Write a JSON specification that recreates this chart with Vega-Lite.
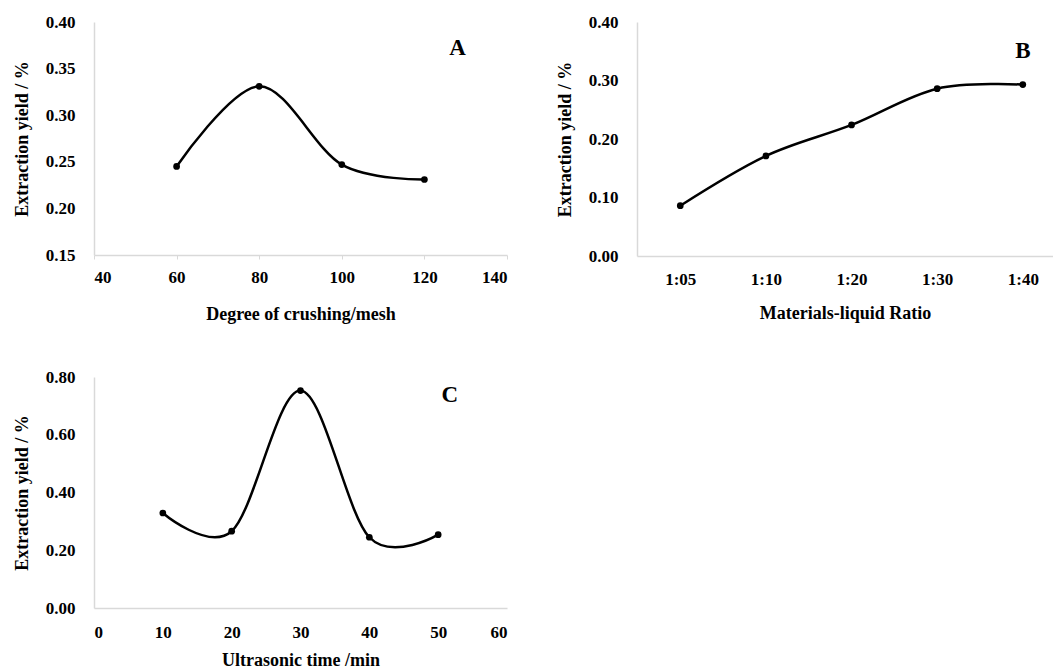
{
  "$schema": "https://vega.github.io/schema/vega-lite/v6.json",
  "padding": {"left": 13, "top": 13, "right": 0, "bottom": 0},
  "background": "white",
  "datasets": {
    "A": [
      {"mesh": 60, "yield": 0.245},
      {"mesh": 80, "yield": 0.331},
      {"mesh": 100, "yield": 0.247},
      {"mesh": 120, "yield": 0.231}
    ],
    "B": [
      {"ratio": "1:05", "yield": 0.086},
      {"ratio": "1:10", "yield": 0.171},
      {"ratio": "1:20", "yield": 0.224},
      {"ratio": "1:30", "yield": 0.286},
      {"ratio": "1:40", "yield": 0.293}
    ],
    "C": [
      {"time": 10, "yield": 0.329},
      {"time": 20, "yield": 0.266},
      {"time": 30, "yield": 0.753},
      {"time": 40, "yield": 0.245},
      {"time": 50, "yield": 0.254}
    ]
  },
  "spacing": {"column": 48, "row": 45},
  "columns": 2,
  "concat": [
    {
      "width": 413,
      "height": 233,
      "layer": [
        {
          "data": {"name": "A"},
          "mark": {"type": "line", "interpolate": "cardinal", "color": "black", "strokeWidth": 2.5},
          "encoding": {
            "x": {"field": "mesh", "type": "quantitative", "scale": {"domain": [40, 140], "nice": false, "zero": false},
                  "axis": {"values": [40, 60, 80, 100, 120, 140], "format": "d", "title": "Degree of crushing/mesh", "ticks": true, "tickSize": 4, "tickColor": "#d9d9d9", "labelPadding": 10, "titlePadding": 20}},
            "y": {"field": "yield", "type": "quantitative", "scale": {"domain": [0.15, 0.40], "nice": false, "zero": false},
                  "axis": {"values": [0.15, 0.20, 0.25, 0.30, 0.35, 0.40], "format": ".2f", "title": "Extraction yield / %"}}
          }
        },
        {
          "data": {"name": "A"},
          "mark": {"type": "point", "filled": true, "color": "black", "size": 45, "opacity": 1},
          "encoding": {
            "x": {"field": "mesh", "type": "quantitative"},
            "y": {"field": "yield", "type": "quantitative"}
          }
        },
        {
          "data": {"values": [{"label": "A", "mesh": 128, "yield": 0.372}]},
          "mark": {"type": "text", "font": "Liberation Serif", "fontWeight": "bold", "fontSize": 23, "align": "center", "baseline": "middle", "color": "black"},
          "encoding": {
            "x": {"field": "mesh", "type": "quantitative"},
            "y": {"field": "yield", "type": "quantitative"},
            "text": {"field": "label"}
          }
        }
      ]
    },
    {
      "width": 416,
      "height": 234,
      "layer": [
        {
          "data": {"name": "B"},
          "mark": {"type": "line", "interpolate": "cardinal", "color": "black", "strokeWidth": 2.5},
          "encoding": {
            "x": {"field": "ratio", "type": "ordinal", "sort": null, "scale": {"type": "point", "padding": 0.429, "align": 0.589},
                  "axis": {"labelAngle": 0, "title": "Materials-liquid Ratio", "labelPadding": 15, "titlePadding": 17}},
            "y": {"field": "yield", "type": "quantitative", "scale": {"domain": [0, 0.40], "nice": false},
                  "axis": {"values": [0, 0.10, 0.20, 0.30, 0.40], "format": ".2f", "title": "Extraction yield / %"}}
          }
        },
        {
          "data": {"name": "B"},
          "mark": {"type": "point", "filled": true, "color": "black", "size": 45, "opacity": 1},
          "encoding": {
            "x": {"field": "ratio", "type": "ordinal", "sort": null},
            "y": {"field": "yield", "type": "quantitative"}
          }
        },
        {
          "data": {"values": [{"label": "B", "ratio": "1:40", "yield": 0.351}]},
          "mark": {"type": "text", "font": "Liberation Serif", "fontWeight": "bold", "fontSize": 23, "align": "center", "baseline": "middle", "color": "black"},
          "encoding": {
            "x": {"field": "ratio", "type": "ordinal", "sort": null},
            "y": {"field": "yield", "type": "quantitative"},
            "text": {"field": "label"}
          }
        }
      ]
    },
    {
      "width": 413,
      "height": 231,
      "layer": [
        {
          "data": {"name": "C"},
          "mark": {"type": "line", "interpolate": "cardinal", "color": "black", "strokeWidth": 2.5},
          "encoding": {
            "x": {"field": "time", "type": "quantitative", "scale": {"domain": [0, 60], "nice": false},
                  "axis": {"values": [0, 10, 20, 30, 40, 50, 60], "format": "d", "title": "Ultrasonic time /min", "labelPadding": 16, "titlePadding": 11}},
            "y": {"field": "yield", "type": "quantitative", "scale": {"domain": [0, 0.80], "nice": false},
                  "axis": {"values": [0, 0.20, 0.40, 0.60, 0.80], "format": ".2f", "title": "Extraction yield / %"}}
          }
        },
        {
          "data": {"name": "C"},
          "mark": {"type": "point", "filled": true, "color": "black", "size": 45, "opacity": 1},
          "encoding": {
            "x": {"field": "time", "type": "quantitative"},
            "y": {"field": "yield", "type": "quantitative"}
          }
        },
        {
          "data": {"values": [{"label": "C", "time": 51.7, "yield": 0.738}]},
          "mark": {"type": "text", "font": "Liberation Serif", "fontWeight": "bold", "fontSize": 23, "align": "center", "baseline": "middle", "color": "black"},
          "encoding": {
            "x": {"field": "time", "type": "quantitative"},
            "y": {"field": "yield", "type": "quantitative"},
            "text": {"field": "label"}
          }
        }
      ]
    }
  ],
  "resolve": {"scale": {"x": "independent", "y": "independent"}},
  "config": {
    "view": {"stroke": null},
    "font": "Liberation Serif",
    "axis": {
      "grid": false,
      "ticks": false,
      "domainColor": "#d9d9d9",
      "domainWidth": 1.5,
      "labelFont": "Liberation Serif",
      "labelFontWeight": "bold",
      "labelFontSize": 17,
      "labelColor": "black",
      "titleFont": "Liberation Serif",
      "titleFontWeight": "bold",
      "titleFontSize": 18,
      "titleColor": "black"
    },
    "axisY": {"labelPadding": 19, "titlePadding": 14}
  }
}
